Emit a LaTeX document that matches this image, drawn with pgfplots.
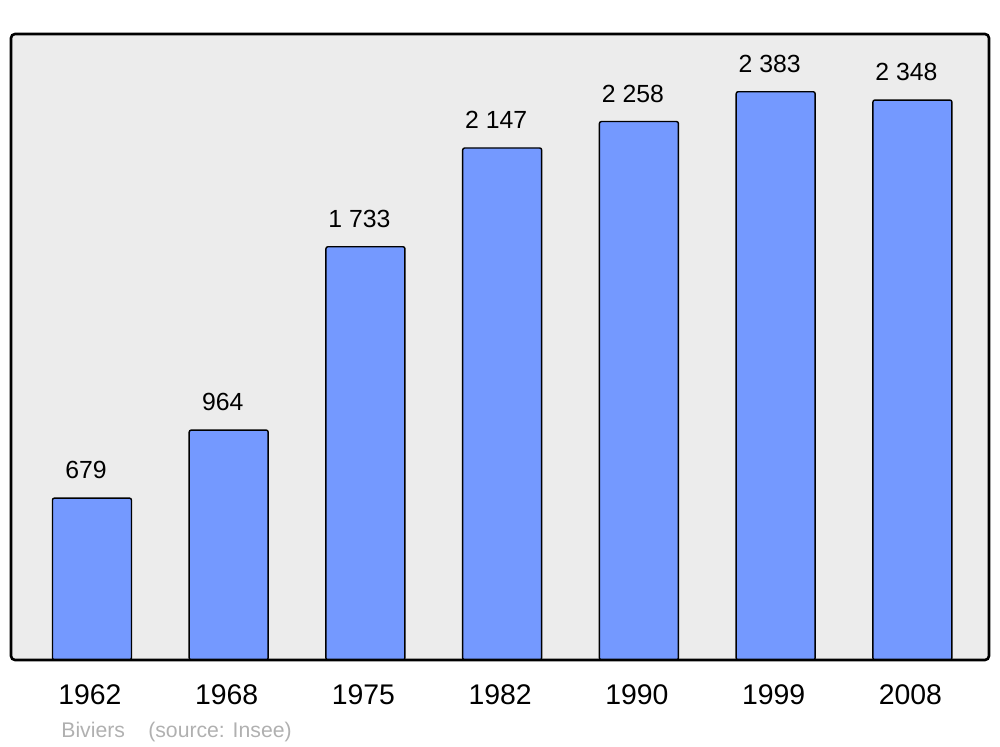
\documentclass[border=0pt]{standalone}
\usepackage{pgfplots}
\pgfplotsset{compat=1.18}
\usepackage{fontspec}
\setmainfont{Liberation Sans}
\definecolor{barblue}{HTML}{7499FF}
\definecolor{bggray}{HTML}{ECECEC}
\definecolor{srcgray}{HTML}{B0B0B0}
\begin{document}
\begin{tikzpicture}
\begin{axis}[
  scale only axis,
  clip=false,
  width=489pt, height=313pt,
  xmin=-0.592, xmax=6.56,
  ymin=0, ymax=2625,
  axis line style={draw=none},
  axis background/.style={fill=bggray, rounded corners=2pt},
  major tick length=0pt,
  ytick=\empty,
  xtick={0,1,2,3,4,5,6},
  xticklabels={1962,1968,1975,1982,1990,1999,2008},
  xticklabel style={anchor=center, yshift=-17.5pt, xshift=-1pt, font=\fontsize{14.2pt}{16pt}\selectfont},
  ybar, bar width=39.5pt,
  nodes near coords,
  every node near coord/.append style={anchor=center, yshift=14pt, xshift=-3pt, font=\fontsize{12.4pt}{14pt}\selectfont},
  /pgf/number format/.cd, 1000 sep={\ }, assume math mode=true,
]
\addplot[fill=barblue, draw=black, line width=0.7pt, rounded corners=1pt]
  coordinates {(0,679) (1,964) (2,1733) (3,2147) (4,2258) (5,2383) (6,2348)};
\draw[line width=1.3pt, rounded corners=2pt] (rel axis cs:0,0) rectangle (rel axis cs:1,1);
\end{axis}
\node[anchor=west, text=srcgray, font=\fontsize{10.6pt}{12pt}\selectfont, inner sep=0pt] at ([xshift=25pt, yshift=-36pt]current axis.south west) {Biviers\hspace{1.1em}(source: Insee)};
\pgfresetboundingbox
\path ([xshift=-5.5pt, yshift=-43.5pt]current axis.south west) rectangle ([xshift=5.5pt, yshift=17pt]current axis.north east);
\end{tikzpicture}
\end{document}
